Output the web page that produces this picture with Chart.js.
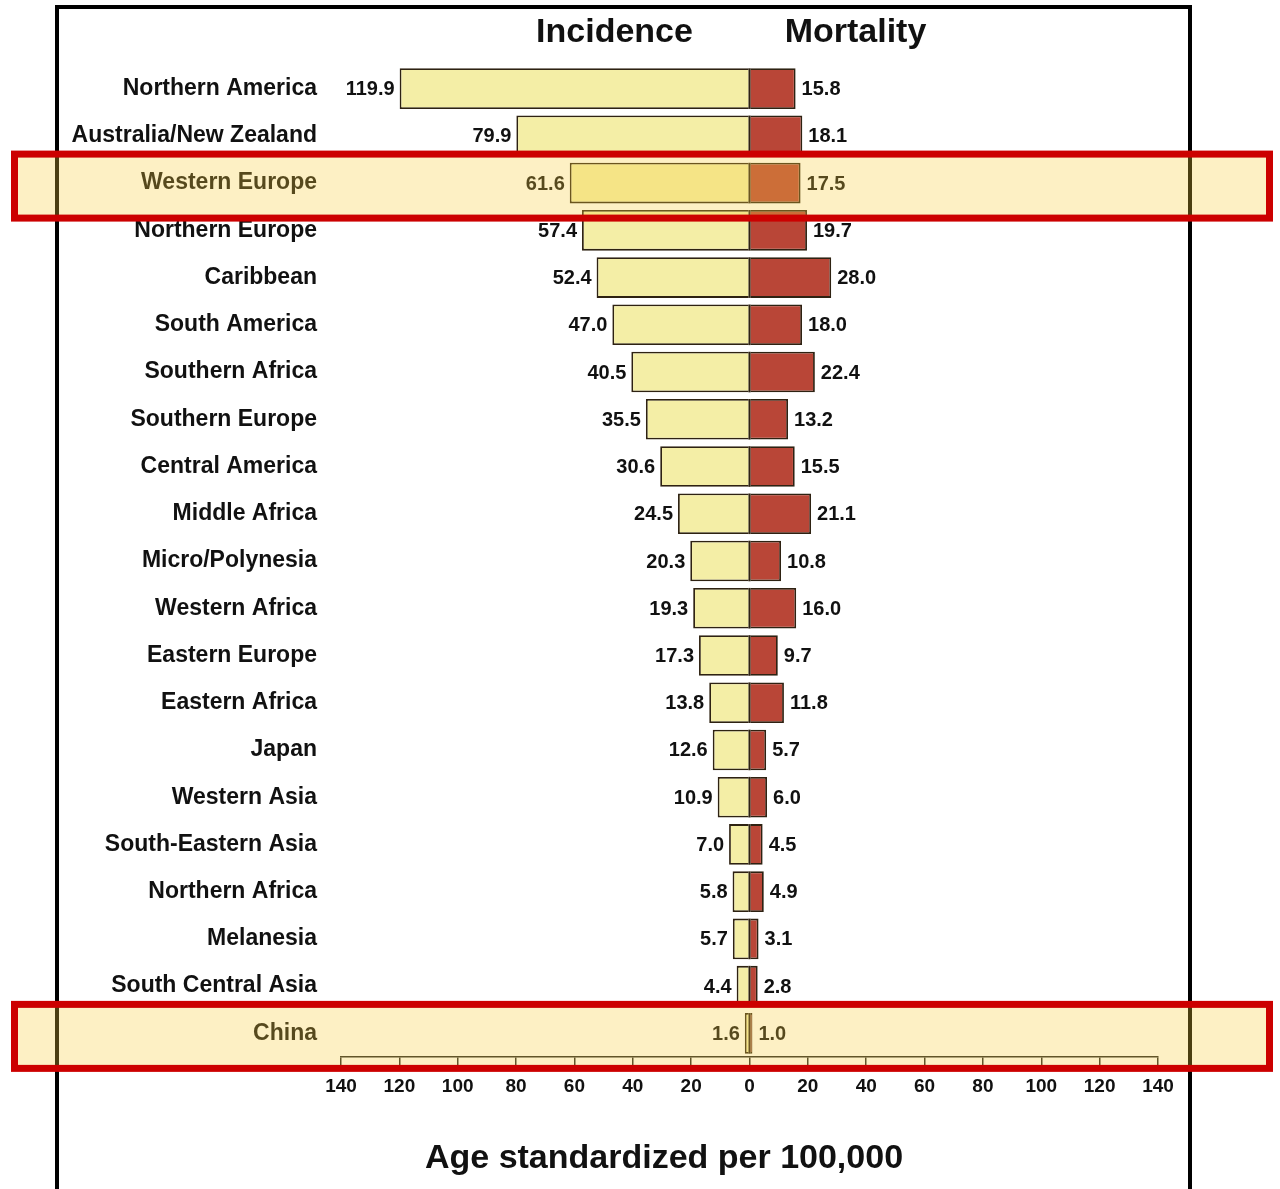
<!DOCTYPE html>
<html>
<head>
<meta charset="utf-8">
<title>Incidence and Mortality by Region</title>
<script src="https://cdn.jsdelivr.net/npm/chart.js@4/dist/chart.umd.min.js"></script>
<style>
  html, body { margin: 0; padding: 0; background: #ffffff; }
  #wrap { width: 1280px; height: 1189px; position: relative; }
</style>
</head>
<body>
<div id="wrap"><canvas id="chart" width="1280" height="1189"></canvas></div>
<script>
// Regions, top to bottom
const regions = [
  'Northern America', 'Australia/New Zealand', 'Western Europe', 'Northern Europe',
  'Caribbean', 'South America', 'Southern Africa', 'Southern Europe',
  'Central America', 'Middle Africa', 'Micro/Polynesia', 'Western Africa',
  'Eastern Europe', 'Eastern Africa', 'Japan', 'Western Asia',
  'South-Eastern Asia', 'Northern Africa', 'Melanesia', 'South Central Asia', 'China'
];

// Age standardized rates per 100,000
const incidence = [119.9, 79.9, 61.6, 57.4, 52.4, 47.0, 40.5, 35.5, 30.6, 24.5,
                   20.3, 19.3, 17.3, 13.8, 12.6, 10.9, 7.0, 5.8, 5.7, 4.4, 1.6];
const mortality = [15.8, 18.1, 17.5, 19.7, 28.0, 18.0, 22.4, 13.2, 15.5, 21.1,
                   10.8, 16.0, 9.7, 11.8, 5.7, 6.0, 4.5, 4.9, 3.1, 2.8, 1.0];

// Axis ticks (shown as magnitudes on both sides of zero)
const axisTicks = [-140, -120, -100, -80, -60, -40, -20, 0, 20, 40, 60, 80, 100, 120, 140];

// Rows called out with a boxed band
const highlighted = ['Western Europe', 'China'];

const FONT = '"Liberation Sans", Arial, Helvetica, sans-serif';
const INK = '#111111';
const OUTLINE = '#2e2212';

const pagePlugin = {
  id: 'page',
  beforeDraw(chart) {
    const ctx = chart.ctx;
    ctx.save();
    ctx.fillStyle = '#ffffff';
    ctx.fillRect(0, 0, chart.width, chart.height);
    ctx.restore();
  },
  afterDatasetsDraw(chart) {
    const ctx = chart.ctx;
    const zero = chart.scales.x.getPixelForValue(0);
    ctx.save();

    // shared edge between the two bars of each row
    ctx.strokeStyle = OUTLINE;
    ctx.lineWidth = 2;
    chart.getDatasetMeta(0).data.forEach(bar => {
      const h = bar.height / 2;
      ctx.beginPath();
      ctx.moveTo(zero, bar.y - h);
      ctx.lineTo(zero, bar.y + h);
      ctx.stroke();
    });

    // value labels at the outer end of each bar
    ctx.font = 'bold 20px ' + FONT;
    ctx.fillStyle = INK;
    ctx.textBaseline = 'middle';
    chart.data.datasets.forEach((ds, di) => {
      const meta = chart.getDatasetMeta(di);
      meta.data.forEach((bar, i) => {
        const v = Math.abs(ds.data[i]).toFixed(1);
        if (ds.data[i] < 0) {
          ctx.textAlign = 'right';
          ctx.fillText(v, bar.x - 5, bar.y + 1);
        } else {
          ctx.textAlign = 'left';
          ctx.fillText(v, bar.x + 6, bar.y + 1);
        }
      });
    });
    ctx.restore();
  },
  afterDraw(chart) {
    const ctx = chart.ctx;
    const yScale = chart.scales.y;
    const xScale = chart.scales.x;
    const zero = xScale.getPixelForValue(0);
    ctx.save();

    // column headings
    ctx.font = 'bold 34px ' + FONT;
    ctx.fillStyle = INK;
    ctx.textBaseline = 'middle';
    ctx.textAlign = 'center';
    ctx.fillText('Incidence', zero - 135, 33);
    ctx.fillText('Mortality', zero + 106, 33);

    // axis title
    ctx.fillText('Age standardized per 100,000', 664, 1159);

    // outer frame
    ctx.strokeStyle = '#000000';
    ctx.lineWidth = 4;
    ctx.beginPath();
    ctx.moveTo(57, 1192);
    ctx.lineTo(57, 7);
    ctx.lineTo(1190, 7);
    ctx.lineTo(1190, 1192);
    ctx.stroke();

    // boxed call-out bands
    highlighted.forEach(name => {
      const idx = regions.indexOf(name);
      const cy = yScale.getPixelForValue(idx) + 3;
      const top = cy - 32, bottom = cy + 32;
      const left = 14.5, right = 1269.5;
      ctx.fillStyle = 'rgba(248, 205, 58, 0.30)';
      ctx.fillRect(left, top, right - left, bottom - top);
      ctx.strokeStyle = '#cc0000';
      ctx.lineWidth = 7;
      ctx.strokeRect(left, top, right - left, bottom - top);
    });
    ctx.restore();
  }
};

new Chart(document.getElementById('chart'), {
  type: 'bar',
  data: {
    labels: regions,
    datasets: [
      {
        label: 'Incidence',
        data: incidence.map(v => -v),
        backgroundColor: '#f4eea6',
        borderColor: OUTLINE,
        borderWidth: 1.8,
        borderSkipped: 'start'
      },
      {
        label: 'Mortality',
        data: mortality,
        backgroundColor: '#b94637',
        borderColor: OUTLINE,
        borderWidth: 1.8,
        borderSkipped: 'start'
      }
    ]
  },
  options: {
    indexAxis: 'y',
    responsive: false,
    animation: false,
    devicePixelRatio: 1,
    barPercentage: 0.86,
    categoryPercentage: 1.0,
    layout: { padding: { top: 65, right: 122, left: 0, bottom: 0 } },
    plugins: {
      legend: { display: false },
      tooltip: { enabled: false },
      title: { display: false }
    },
    scales: {
      x: {
        type: 'linear',
        stacked: true,
        min: axisTicks[0],
        max: axisTicks[axisTicks.length - 1],
        afterBuildTicks(scale) {
          scale.ticks = axisTicks.map(v => ({ value: v }));
        },
        afterFit(scale) { scale.height = 132; },
        grid: {
          display: true,
          drawOnChartArea: false,
          drawTicks: true,
          tickLength: 8,
          color: '#222222',
          lineWidth: 1.5
        },
        border: { display: true, color: '#222222', width: 1.5 },
        ticks: {
          maxRotation: 0,
          autoSkip: false,
          padding: 10,
          color: INK,
          font: { family: FONT, size: 19, weight: 'bold' },
          callback: v => String(Math.abs(v))
        }
      },
      y: {
        type: 'category',
        stacked: true,
        afterFit(scale) { scale.width = 341; },
        grid: { display: false, drawTicks: false },
        border: { display: false },
        ticks: {
          autoSkip: false,
          padding: 24,
          color: INK,
          font: { family: FONT, size: 23, weight: 'bold' }
        }
      }
    }
  },
  plugins: [pagePlugin]
});
</script>
</body>
</html>
